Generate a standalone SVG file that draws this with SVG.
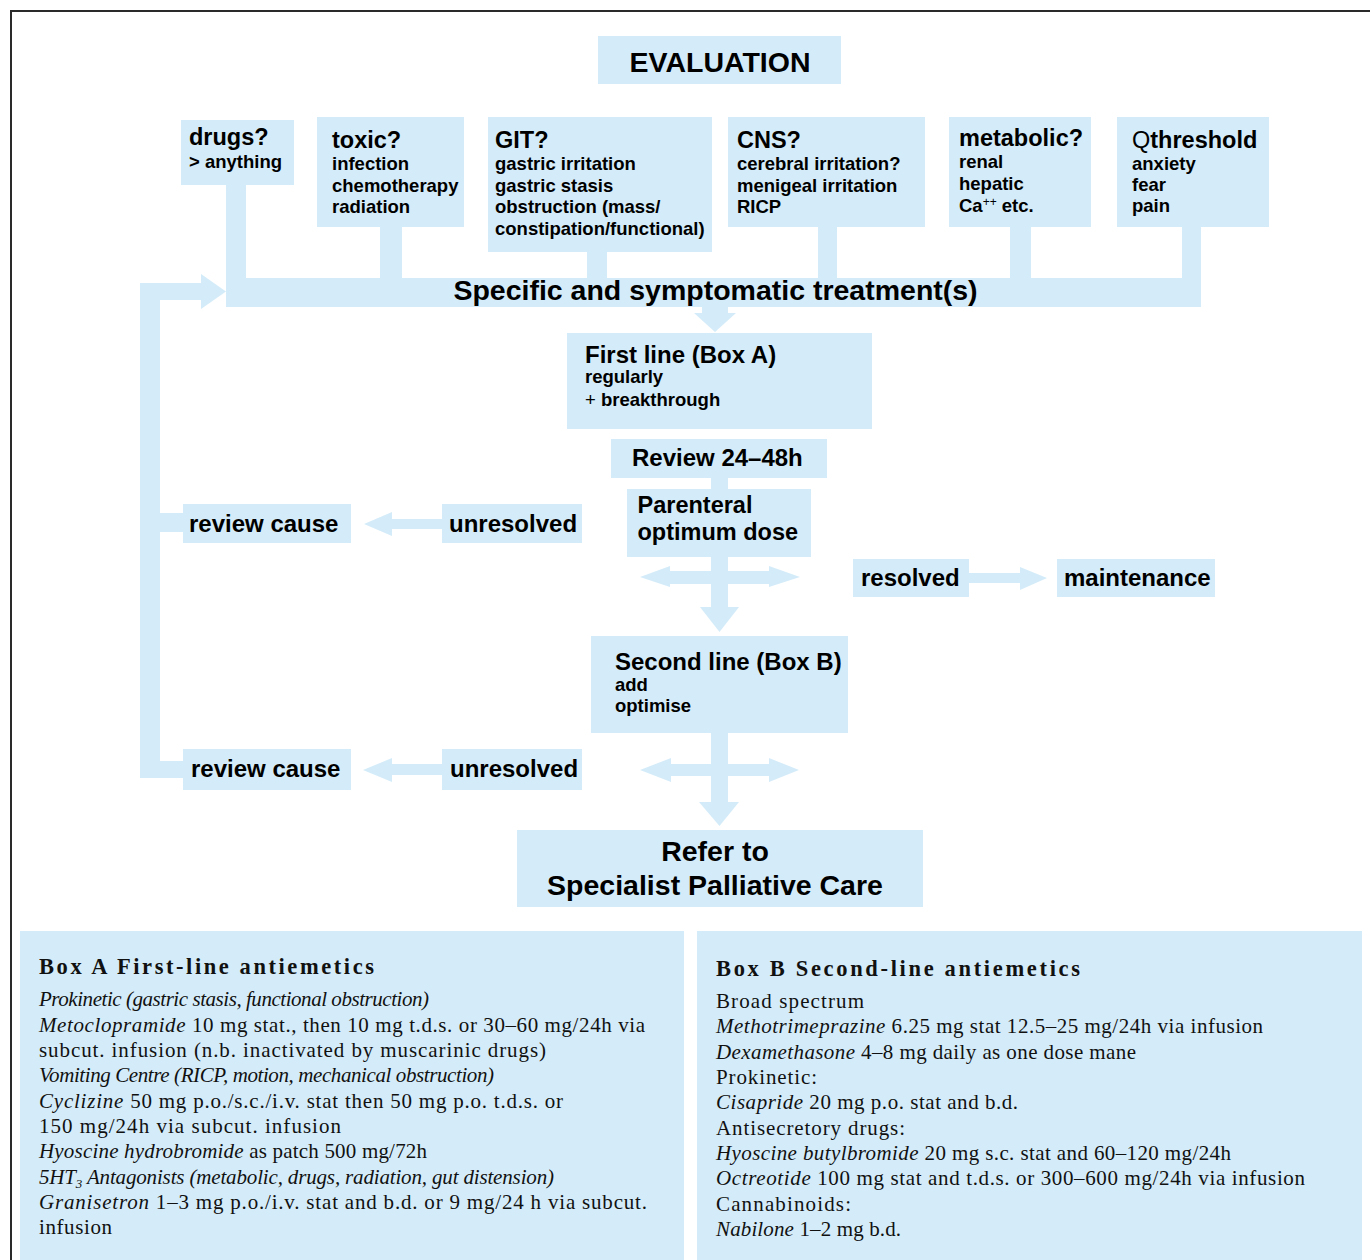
<svg xmlns="http://www.w3.org/2000/svg" width="1370" height="1260" viewBox="0 0 1370 1260">
<style>
.box{fill:#d4ecf9}
.conn{fill:#d4ecf9}
.t{font-family:"Liberation Sans",Arial,sans-serif;font-weight:bold;fill:#000}
.h{font-size:23.5px}
.m{font-size:24px}
.b{font-size:28.5px}
.s{font-size:18.5px}
.n{font-weight:normal}
.sf{font-family:"Liberation Serif","Times New Roman",serif;font-size:21px;fill:#111}
.sh{font-weight:bold;font-size:22.5px}
.it{font-style:italic}
.frame{fill:none;stroke:#2a2a2a;stroke-width:2}
</style>
<rect width="1370" height="1260" fill="#fff"/>
<path class="frame" d="M11,1260 V11 H1370"/>

<g id="connectors">
  <rect class="conn" x="226" y="185" width="20" height="94"/>
  <rect class="conn" x="380" y="227" width="22" height="52"/>
  <rect class="conn" x="587" y="252" width="20" height="27"/>
  <rect class="conn" x="818" y="227" width="19" height="52"/>
  <rect class="conn" x="1010" y="227" width="21" height="52"/>
  <rect class="conn" x="1182" y="227" width="19" height="52"/>
  <polygon class="conn" points="702,306 728,306 728,313 736,313 715,332 694,313 702,313"/>
  <rect class="conn" x="711" y="477" width="17" height="13"/>
  <rect class="conn" x="711" y="556" width="17" height="52"/>
  <polygon class="conn" points="700,607 739,607 719.5,632"/>
  <polygon class="conn" points="640,577 670,566 670,571 769,571 769,566 800,577 769,587 769,584 670,584 670,587"/>
  <polygon class="conn" points="969,573 1020,573 1020,567 1047,578 1020,590 1020,583 969,583"/>
  <polygon class="conn" points="442,519 392,519 392,512 364,524 392,536 392,529 442,529"/>
  <rect class="conn" x="711" y="732" width="17" height="71"/>
  <polygon class="conn" points="699,802 739,802 719.5,826"/>
  <polygon class="conn" points="640,770 671,758 671,764 769,764 769,758 799,770 769,782 769,776 671,776 671,782"/>
  <polygon class="conn" points="442,764 392,764 392,758 363,770 392,782 392,775 442,775"/>
  <polygon class="conn" points="140,283 201,283 201,274 226,291.5 201,309 201,300 160,300 160,513 184,513 184,532 160,532 160,761 184,761 184,778 140,778"/>
</g>

<g id="evaluation">
  <rect class="box" x="598" y="36" width="243" height="48"/>
  <text class="t b" x="720" y="72" text-anchor="middle">EVALUATION</text>
</g>
<g id="drugs">
  <rect class="box" x="181" y="120" width="113" height="65"/>
  <text class="t h" x="189" y="145">drugs?</text>
  <text class="t s" x="189" y="168">&gt; anything</text>
</g>
<g id="toxic">
  <rect class="box" x="317" y="117" width="147" height="110"/>
  <text class="t h" x="332" y="148">toxic?</text>
  <text class="t s" x="332" y="170">infection</text>
  <text class="t s" x="332" y="192">chemotherapy</text>
  <text class="t s" x="332" y="213">radiation</text>
</g>
<g id="git">
  <rect class="box" x="488" y="117" width="224" height="135"/>
  <text class="t h" x="495" y="148">GIT?</text>
  <text class="t s" x="495" y="170">gastric irritation</text>
  <text class="t s" x="495" y="192">gastric stasis</text>
  <text class="t s" x="495" y="213">obstruction (mass/</text>
  <text class="t s" x="495" y="235">constipation/functional)</text>
</g>
<g id="cns">
  <rect class="box" x="728" y="117" width="197" height="110"/>
  <text class="t h" x="737" y="148">CNS?</text>
  <text class="t s" x="737" y="170">cerebral irritation?</text>
  <text class="t s" x="737" y="192">menigeal irritation</text>
  <text class="t s" x="737" y="213">RICP</text>
</g>
<g id="metabolic">
  <rect class="box" x="949" y="117" width="142" height="110"/>
  <text class="t h" x="959" y="146">metabolic?</text>
  <text class="t s" x="959" y="168">renal</text>
  <text class="t s" x="959" y="190">hepatic</text>
  <text class="t s" x="959" y="212">Ca<tspan class="n" font-size="12" dy="-6">++</tspan><tspan dy="6"> etc.</tspan></text>
</g>
<g id="threshold">
  <rect class="box" x="1117" y="117" width="152" height="110"/>
  <text class="t h" x="1132" y="148"><tspan class="n">Q</tspan>threshold</text>
  <text class="t s" x="1132" y="170">anxiety</text>
  <text class="t s" x="1132" y="191">fear</text>
  <text class="t s" x="1132" y="212">pain</text>
</g>
<g id="specific">
  <rect class="box" x="226" y="278" width="975" height="29"/>
  <text class="t b" x="715.5" y="300" text-anchor="middle">Specific and symptomatic treatment(s)</text>
</g>
<g id="first-line">
  <rect class="box" x="567" y="333" width="305" height="96"/>
  <text class="t m" x="585" y="363">First line (Box A)</text>
  <text class="t s" x="585" y="383">regularly</text>
  <text class="t s" x="585" y="406"><tspan class="n">+</tspan> breakthrough</text>
</g>
<g id="review">
  <rect class="box" x="611" y="439" width="216" height="39"/>
  <text class="t m" x="632" y="466">Review 24–48h</text>
</g>
<g id="parenteral">
  <rect class="box" x="627" y="489" width="184" height="68"/>
  <text class="t" font-size="23.5" x="637.5" y="513">Parenteral</text>
  <text class="t" font-size="23.5" x="637.5" y="540">optimum dose</text>
</g>
<g id="resolved">
  <rect class="box" x="853" y="559" width="116" height="38"/>
  <text class="t m" x="861" y="586">resolved</text>
</g>
<g id="maintenance">
  <rect class="box" x="1057" y="559" width="158" height="38"/>
  <text class="t m" x="1064" y="586">maintenance</text>
</g>
<g id="unresolved-1">
  <rect class="box" x="442" y="504" width="140" height="39"/>
  <text class="t m" x="449" y="532">unresolved</text>
</g>
<g id="review-cause-1">
  <rect class="box" x="183" y="504" width="168" height="39"/>
  <text class="t m" x="189" y="532">review cause</text>
</g>
<g id="second-line">
  <rect class="box" x="591" y="636" width="257" height="97"/>
  <text class="t m" x="615" y="670">Second line (Box B)</text>
  <text class="t s" x="615" y="691">add</text>
  <text class="t s" x="615" y="712">optimise</text>
</g>
<g id="unresolved-2">
  <rect class="box" x="442" y="749" width="140" height="41"/>
  <text class="t m" x="450" y="777">unresolved</text>
</g>
<g id="review-cause-2">
  <rect class="box" x="183" y="749" width="168" height="41"/>
  <text class="t m" x="191" y="777">review cause</text>
</g>
<g id="refer">
  <rect class="box" x="517" y="830" width="406" height="77"/>
  <text class="t b" x="715" y="861" text-anchor="middle">Refer to</text>
  <text class="t b" x="715" y="895" text-anchor="middle">Specialist Palliative Care</text>
</g>

<g id="box-a">
  <rect class="box" x="20" y="931" width="664" height="329"/>
  <text class="sf sh" x="39" y="974" textLength="335">Box A First-line antiemetics</text>
  <text class="sf it" x="39" y="1006" textLength="390">Prokinetic (gastric stasis, functional obstruction)</text>
  <text class="sf" x="39" y="1032" textLength="606"><tspan class="it">Metoclopramide</tspan> 10 mg stat., then 10 mg t.d.s. or 30–60 mg/24h via</text>
  <text class="sf" x="39" y="1057" textLength="507">subcut. infusion (n.b. inactivated by muscarinic drugs)</text>
  <text class="sf it" x="39" y="1082" textLength="455">Vomiting Centre (RICP, motion, mechanical obstruction)</text>
  <text class="sf" x="39" y="1108" textLength="524"><tspan class="it">Cyclizine</tspan> 50 mg p.o./s.c./i.v. stat then 50 mg p.o. t.d.s. or</text>
  <text class="sf" x="39" y="1133" textLength="302">150 mg/24h via subcut. infusion</text>
  <text class="sf" x="39" y="1158" textLength="388"><tspan class="it">Hyoscine hydrobromide</tspan> as patch 500 mg/72h</text>
  <text class="sf it" x="39" y="1184" textLength="515">5HT<tspan font-size="13" dy="4">3</tspan><tspan dy="-4"> Antagonists (metabolic, drugs, radiation, gut  distension)</tspan></text>
  <text class="sf" x="39" y="1209" textLength="608"><tspan class="it">Granisetron</tspan> 1–3 mg p.o./i.v. stat and b.d. or 9 mg/24 h via subcut.</text>
  <text class="sf" x="39" y="1234" textLength="73">infusion</text>
</g>

<g id="box-b">
  <rect class="box" x="697" y="931" width="665" height="329"/>
  <text class="sf sh" x="716" y="976" textLength="364">Box B Second-line antiemetics</text>
  <text class="sf" x="716" y="1008" textLength="148">Broad spectrum</text>
  <text class="sf" x="716" y="1033" textLength="547"><tspan class="it">Methotrimeprazine</tspan> 6.25 mg stat 12.5–25 mg/24h via infusion</text>
  <text class="sf" x="716" y="1059" textLength="420"><tspan class="it">Dexamethasone</tspan> 4–8 mg daily as one dose mane</text>
  <text class="sf" x="716" y="1084" textLength="101">Prokinetic:</text>
  <text class="sf" x="716" y="1109" textLength="302"><tspan class="it">Cisapride</tspan> 20 mg p.o. stat and b.d.</text>
  <text class="sf" x="716" y="1135" textLength="189">Antisecretory drugs:</text>
  <text class="sf" x="716" y="1160" textLength="515"><tspan class="it">Hyoscine butylbromide</tspan> 20 mg s.c. stat and 60–120 mg/24h</text>
  <text class="sf" x="716" y="1185" textLength="589"><tspan class="it">Octreotide</tspan> 100 mg stat and t.d.s. or 300–600 mg/24h via infusion</text>
  <text class="sf" x="716" y="1211" textLength="135">Cannabinoids:</text>
  <text class="sf" x="716" y="1236" textLength="185"><tspan class="it">Nabilone</tspan> 1–2 mg b.d.</text>
</g>
</svg>
